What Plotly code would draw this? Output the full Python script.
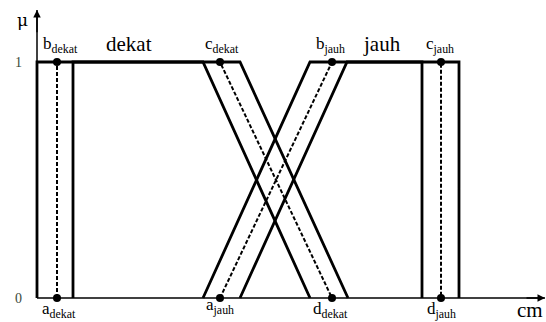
import plotly.graph_objects as go

# Interval type-2 trapezoid parameters (x in cm, arbitrary scale)
# dekat: upper MF, lower MF, middle (dashed)
dekat_upper_x = [0, 0, 203, 311]
dekat_lower_x = [36, 36, 166, 273]
dekat_mid_x = [20, 20, 183, 295]
# jauh: upper MF, lower MF, middle (dashed)
jauh_upper_x = [166, 273, 422, 422]
jauh_lower_x = [203, 310, 385, 385]
jauh_mid_x = [183, 295, 404, 404]

dekat_mu = [0, 1, 1, 0]
jauh_mu = [0, 1, 1, 0]

point_x = [20, 183, 20, 295, 183, 295, 404, 404]
point_mu = [1, 1, 0, 0, 0, 1, 1, 0]
point_labels = ["b<sub>dekat</sub>", "c<sub>dekat</sub>", "a<sub>dekat</sub>", "d<sub>dekat</sub>",
                "a<sub>jauh</sub>", "b<sub>jauh</sub>", "c<sub>jauh</sub>", "d<sub>jauh</sub>"]

tick_mu = [0, 1]
tick_text = ["0", "1"]

x_max = 508
y_max = 1.22

FONT = "Liberation Serif"

fig = go.Figure()

solid = dict(color="black", width=2.8)
dashed = dict(color="black", width=2, dash="4px,2px")

# axes
fig.add_trace(go.Scatter(x=[0, x_max], y=[0, 0], mode="lines", line=dict(color="black", width=1.5)))
fig.add_trace(go.Scatter(x=[0, 0], y=[0, y_max], mode="lines", line=dict(color="black", width=1.5)))

for xs in [dekat_upper_x, dekat_lower_x]:
    fig.add_trace(go.Scatter(x=xs, y=dekat_mu, mode="lines", line=solid))
for xs in [jauh_upper_x, jauh_lower_x]:
    fig.add_trace(go.Scatter(x=xs, y=jauh_mu, mode="lines", line=solid))
fig.add_trace(go.Scatter(x=dekat_mid_x, y=dekat_mu, mode="lines", line=dashed))
fig.add_trace(go.Scatter(x=jauh_mid_x, y=jauh_mu, mode="lines", line=dashed))

fig.add_trace(go.Scatter(x=point_x, y=point_mu, mode="markers",
                         marker=dict(color="black", size=8)))

# label placement
label_pos = {
    "b<sub>dekat</sub>": (23, 1.07), "c<sub>dekat</sub>": (185, 1.07),
    "b<sub>jauh</sub>": (293, 1.07), "c<sub>jauh</sub>": (403, 1.07),
    "a<sub>dekat</sub>": (22, -0.05), "d<sub>dekat</sub>": (293, -0.05),
    "a<sub>jauh</sub>": (183, -0.035), "d<sub>jauh</sub>": (404, -0.05),
}
for lab in point_labels:
    lx, ly = label_pos[lab]
    fig.add_annotation(x=lx, y=ly, text=lab, showarrow=False,
                       font=dict(family=FONT, size=17, color="black"))

fig.add_annotation(x=92, y=1.075, text="dekat", showarrow=False,
                   font=dict(family=FONT, size=21, color="black"))
fig.add_annotation(x=345, y=1.075, text="jauh", showarrow=False,
                   font=dict(family=FONT, size=21, color="black"))
fig.add_annotation(x=493, y=-0.05, text="cm", showarrow=False,
                   font=dict(family=FONT, size=21, color="black"))
fig.add_annotation(x=-15, y=1.18, text="μ", showarrow=False,
                   font=dict(family="DejaVu Serif", size=17, color="black"))
for tm, tt in zip(tick_mu, tick_text):
    fig.add_annotation(x=-19, y=tm, text=tt, showarrow=False,
                       font=dict(family=FONT, size=14, color="#3a4a3a"))

# axis arrows
fig.add_annotation(x=0, y=y_max, ax=0, ay=1.12, xref="x", yref="y", axref="x", ayref="y",
                   text="", showarrow=True, arrowhead=2, arrowsize=1, arrowwidth=1.5,
                   arrowcolor="black")
fig.add_annotation(x=x_max, y=0, ax=x_max - 20, ay=0, xref="x", yref="y", axref="x", ayref="y",
                   text="", showarrow=True, arrowhead=2, arrowsize=1, arrowwidth=1.5,
                   arrowcolor="black")

fig.update_layout(
    width=546, height=322,
    margin=dict(l=0, r=0, t=0, b=0),
    plot_bgcolor="white", paper_bgcolor="white",
    showlegend=False,
    xaxis=dict(range=[-37, 509], visible=False),
    yaxis=dict(range=[-24 / 236, 298 / 236], visible=False),
)

# page body has a default 8px margin; remove it so the figure fills the window
fig.write_html("out.html", config={"displayModeBar": False},
               post_script="document.body.style.margin='0';")
